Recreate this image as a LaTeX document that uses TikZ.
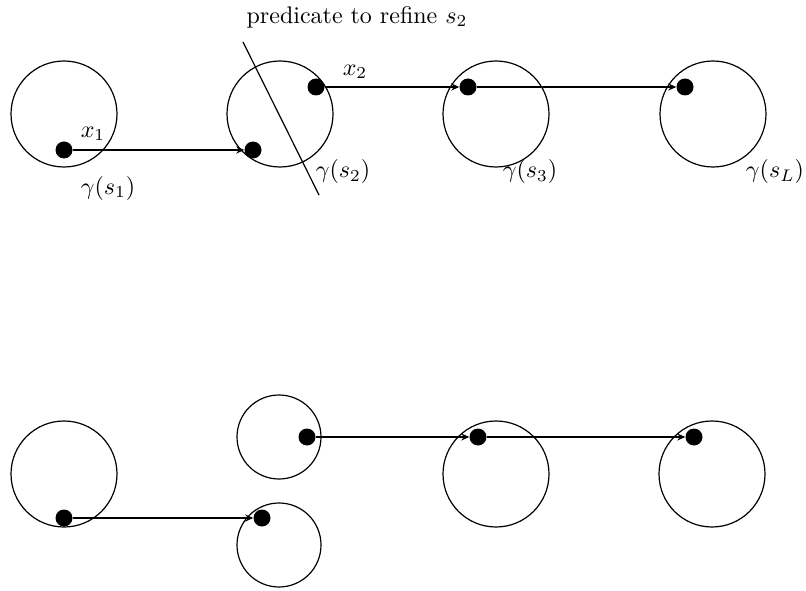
\documentclass[tikz,border=0pt]{standalone}
\usetikzlibrary{arrows.meta}
\newcommand{\bigtxt}[1]{\scalebox{2.4}{#1}}
\begin{document}
\begin{tikzpicture}[x=1pt,y=-1pt,
  big/.style={draw,circle,line width=1.2pt,minimum size=106pt,inner sep=0pt},
  small/.style={draw,circle,line width=1.2pt,minimum size=84pt,inner sep=0pt},
  dot/.style={circle,fill=black,minimum size=17pt,inner sep=0pt},
  conn/.style={line width=2.2pt,-{Stealth[length=8pt,width=7pt]}},
  lbl/.style={inner sep=0pt}]
\useasboundingbox (0,0) rectangle (806,591);
% top row
\node[big] (c1) at (64,114) {};
\node[big] (c2) at (280,114) {};
\node[big] (c3) at (496,114) {};
\node[big] (c4) at (713,114) {};
\node[dot] (a1) at (64,150) {};
\node[dot] (a2) at (253,150) {};
\node[dot] (a3) at (316,87) {};
\node[dot] (a4) at (468,87) {};
\node[dot] (a5) at (685,87) {};
\draw[conn] (a1) -- (a2);
\draw[conn] (a3) -- (a4);
\draw[conn] (a4) -- (a5);
\coordinate (p1) at (243,42);
\coordinate (p2) at (319,195);
\draw[line width=1.2pt] (p1) -- (p2);
\node[lbl] (pt) at (357,17) {\bigtxt{predicate to refine $s_2$}};
\node[lbl] (x1) at (93,134) {\bigtxt{$x_1$}};
\node[lbl] (x2) at (355,72) {\bigtxt{$x_2$}};
\node[lbl] (g1) at (108,188) {\bigtxt{$\gamma(s_1)$}};
\node[lbl] (g2) at (343,172) {\bigtxt{$\gamma(s_2)$}};
\node[lbl] (g3) at (530,172) {\bigtxt{$\gamma(s_3)$}};
\node[lbl] (g4) at (775,172) {\bigtxt{$\gamma(s_L)$}};
% bottom row
\node[big] (b1) at (64,474) {};
\node[small] (b2u) at (279,437) {};
\node[small] (b2l) at (279,545) {};
\node[big] (b3) at (496,474) {};
\node[big] (b4) at (712,474) {};
\node[dot] (e1) at (64,518) {};
\node[dot] (e2) at (262,518) {};
\node[dot] (e3) at (307,437) {};
\node[dot] (e4) at (478,437) {};
\node[dot] (e5) at (694,437) {};
\draw[conn] (e1) -- (e2);
\draw[conn] (e3) -- (e4);
\draw[conn] (e4) -- (e5);
\end{tikzpicture}
\end{document}
